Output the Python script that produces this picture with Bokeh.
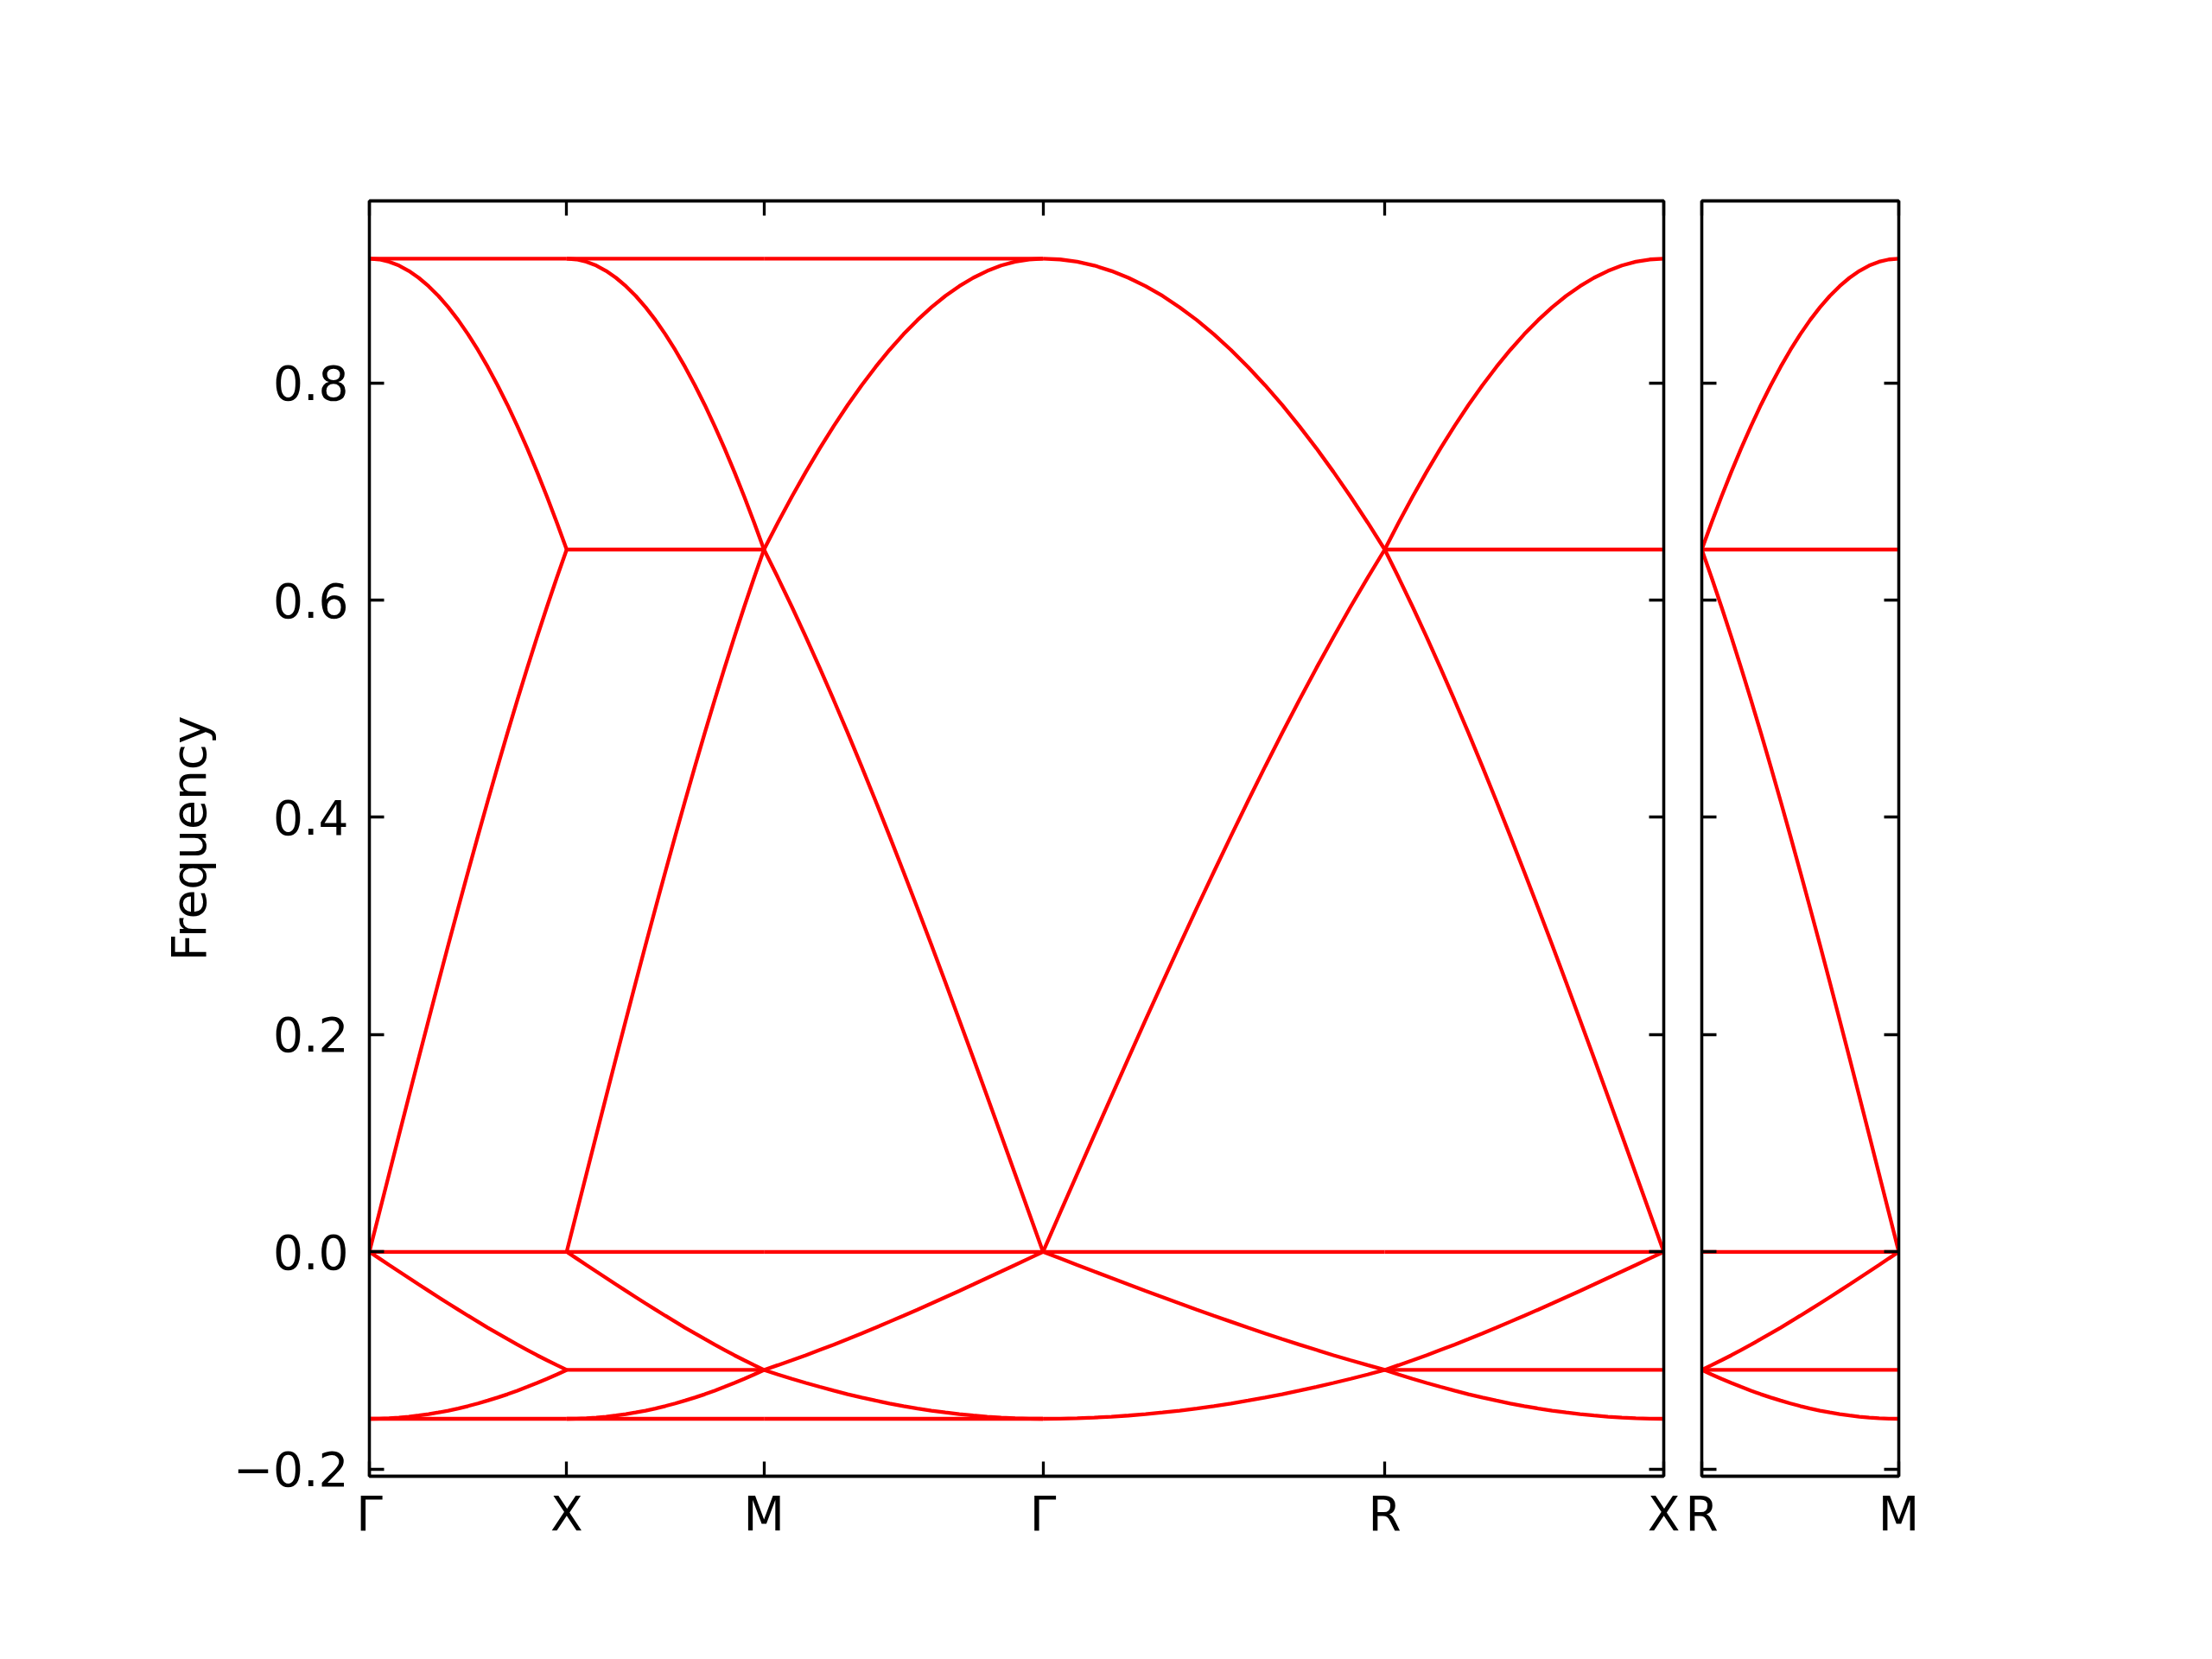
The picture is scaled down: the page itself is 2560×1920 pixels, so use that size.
import numpy as np
from bokeh.plotting import figure
from bokeh.layouts import row
from bokeh.models import LinearAxis, FixedTicker, Range1d, CustomJSTickFormatter
from bokeh.embed import file_html
from bokeh.resources import INLINE

# ---- data ----
path1_labels = ["Γ", "X", "M", "Γ", "R", "X"]
path1_lengths = [0.5, 0.5, 0.7071, 0.8660, 0.7071]
path2_labels = ["R", "M"]
path2_lengths = [0.5]

y_ticks = [-0.2, 0.0, 0.2, 0.4, 0.6, 0.8]

# band values at 21 evenly spaced k-points along one segment
upper_rise = [0.0, 0.0359, 0.0717, 0.1075, 0.1430, 0.1784, 0.2135, 0.2482, 0.2826, 0.3165,
              0.3499, 0.3828, 0.4151, 0.4468, 0.4778, 0.5080, 0.5375, 0.5661, 0.5939, 0.6207, 0.6466]
upper_fall = [0.9144, 0.9137, 0.9116, 0.9081, 0.9031, 0.8968, 0.8891, 0.8801, 0.8696, 0.8579,
              0.8448, 0.8304, 0.8147, 0.7978, 0.7797, 0.7603, 0.7398, 0.7181, 0.6953, 0.6715, 0.6466]
lower_fall = [0.0, -0.0060, -0.0121, -0.0181, -0.0240, -0.0300, -0.0359, -0.0417, -0.0475, -0.0532,
              -0.0588, -0.0643, -0.0698, -0.0751, -0.0803, -0.0854, -0.0903, -0.0952, -0.0998, -0.1043, -0.1087]
lower_rise = [-0.1537, -0.1536, -0.1532, -0.1526, -0.1518, -0.1507, -0.1495, -0.1479, -0.1462, -0.1442,
              -0.1420, -0.1396, -0.1369, -0.1341, -0.1311, -0.1278, -0.1243, -0.1207, -0.1169, -0.1129, -0.1087]

flat_names = ["top", "mid", "zero", "low", "bottom"]
flat_values = [0.9144, 0.6466, 0.0, -0.1087, -0.1537]

# bands on each segment ("~" = traversed in reverse)
path1_bands = [
    ["top", "zero", "bottom", "upper_rise", "upper_fall", "lower_fall", "lower_rise"],
    ["top", "mid", "zero", "low", "bottom", "upper_rise", "upper_fall", "lower_fall", "lower_rise"],
    ["top", "zero", "bottom", "~upper_rise", "~upper_fall", "~lower_fall", "~lower_rise"],
    ["zero", "upper_rise", "upper_fall", "lower_fall", "lower_rise"],
    ["mid", "zero", "low", "~upper_rise", "~upper_fall", "~lower_fall", "~lower_rise"],
]
path2_bands = [
    ["mid", "zero", "low", "~upper_rise", "~upper_fall", "~lower_fall", "~lower_rise"],
]

curves = {"upper_rise": upper_rise, "upper_fall": upper_fall,
          "lower_fall": lower_fall, "lower_rise": lower_rise}
flats = dict(zip(flat_names, flat_values))

FONT = "DejaVu Sans"
FS = "55px"
RED = "#ff0000"
LW = 4.3
ALW = 3.3
TICK = 17


def build_lines(kpos, bands):
    xs, ys = [], []
    for i, names in enumerate(bands):
        a, b = kpos[i], kpos[i + 1]
        for nm in names:
            if nm in flats:
                xs.append([a, b])
                ys.append([flats[nm], flats[nm]])
            else:
                vals = list(curves[nm.lstrip("~")])
                if nm.startswith("~"):
                    vals = vals[::-1]
                xs.append(list(np.linspace(a, b, len(vals))))
                ys.append(vals)
    return xs, ys


def style_axis(ax, labels=True):
    ax.axis_line_color = "black"
    ax.axis_line_width = ALW
    ax.major_tick_line_color = "black"
    ax.major_tick_line_width = ALW
    ax.major_tick_in = TICK
    ax.major_tick_out = 0
    ax.minor_tick_in = 0
    ax.minor_tick_out = 0
    ax.major_label_text_font = FONT
    ax.major_label_text_font_size = FS
    ax.major_label_text_color = "black"
    if not labels:
        ax.formatter = CustomJSTickFormatter(code="return '';")
        ax.major_label_standoff = 0


def make_panel(start, lengths, labels, bands, fw, left_labels, mbl, mbr):
    kpos = [float(start)] + [float(v) for v in start + np.cumsum(lengths)]
    p = figure(frame_width=fw, frame_height=1476,
               x_range=Range1d(kpos[0], kpos[-1]), y_range=Range1d(-0.2066, 0.9676),
               output_backend="svg", toolbar_location=None,
               min_border_left=mbl, min_border_right=mbr,
               min_border_top=232, min_border_bottom=120,
               background_fill_color="white", border_fill_color="white")
    p.xgrid.visible = False
    p.ygrid.visible = False
    p.outline_line_color = "black"
    p.outline_line_width = ALW

    xfmt = CustomJSTickFormatter(args=dict(pos=kpos, names=labels), code="""
        let best = 0, d = 1e9;
        for (let i = 0; i < pos.length; i++) {
            const dd = Math.abs(pos[i] - tick);
            if (dd < d) { d = dd; best = i; }
        }
        return names[best];
    """)
    yfmt = CustomJSTickFormatter(code="""
        const s = Math.abs(tick).toFixed(1);
        return tick < -1e-9 ? '\u2212' + s : s;
    """)

    xs, ys = build_lines(kpos, bands)
    p.multi_line(xs, ys, line_color=RED, line_width=LW)

    # bottom axis
    bx = p.xaxis[0]
    bx.ticker = FixedTicker(ticks=kpos)
    bx.formatter = xfmt
    style_axis(bx)
    bx.major_label_standoff = 11

    # left axis
    ly = p.yaxis[0]
    ly.ticker = FixedTicker(ticks=y_ticks)
    style_axis(ly, labels=left_labels)
    if left_labels:
        ly.formatter = yfmt
        ly.major_label_standoff = 24
        ly.axis_label = "Frequency"
        ly.axis_label_text_font = FONT
        ly.axis_label_text_font_size = FS
        ly.axis_label_text_font_style = "normal"
        ly.axis_label_text_color = "black"
        ly.axis_label_standoff = 16

    # right and top axes: ticks only
    ry = LinearAxis(ticker=FixedTicker(ticks=y_ticks))
    style_axis(ry, labels=False)
    p.add_layout(ry, "right")
    tx = LinearAxis(ticker=FixedTicker(ticks=kpos))
    style_axis(tx, labels=False)
    p.add_layout(tx, "above")
    return p


p1 = make_panel(0.0, path1_lengths, path1_labels, path1_bands, 1498, True, 427, 22)
p2 = make_panel(sum(path1_lengths), path2_lengths, path2_labels, path2_bands, 228, False, 22, 100)

layout = row(p1, p2)
open("out.html", "w").write(file_html(layout, INLINE))
